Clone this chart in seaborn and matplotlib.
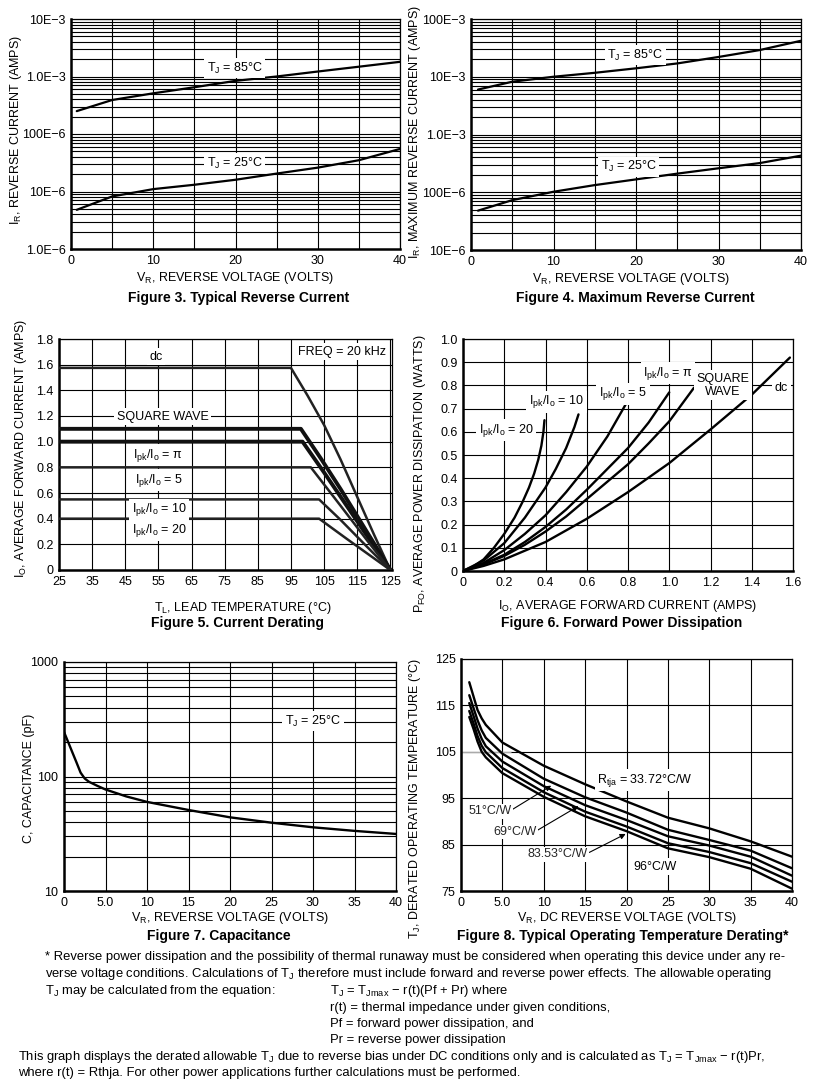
import matplotlib
matplotlib.use("Agg")
import matplotlib.pyplot as plt
import seaborn as sns
from matplotlib.ticker import FixedLocator, FixedFormatter, LogLocator, NullFormatter

# ---- data ----
# Figure 3 typical reverse current
f3_vr = [0.7, 5, 10, 15, 20, 25, 30, 35, 40]
f3_85 = [2.5e-4, 3.9e-4, 5.1e-4, 6.5e-4, 8.4e-4, 1.0e-3, 1.22e-3, 1.48e-3, 1.8e-3]
f3_25 = [4.8e-6, 8.2e-6, 1.1e-5, 1.31e-5, 1.6e-5, 2.05e-5, 2.6e-5, 3.5e-5, 5.5e-5]
f3_ticks = [1e-6, 1e-5, 1e-4, 1e-3, 1e-2]
f3_ticklabels = ["1.0E\u22126", "10E\u22126", "100E\u22126", "1.0E\u22123", "10E\u22123"]

# Figure 4 maximum reverse current
f4_vr = [0.85, 5, 10, 15, 20, 25, 30, 35, 40]
f4_85 = [6.0e-3, 8.2e-3, 1.0e-2, 1.17e-2, 1.4e-2, 1.7e-2, 2.2e-2, 2.9e-2, 4.2e-2]
f4_25 = [4.8e-5, 7.3e-5, 1.02e-4, 1.33e-4, 1.67e-4, 2.1e-4, 2.6e-4, 3.2e-4, 4.3e-4]
f4_ticks = [1e-5, 1e-4, 1e-3, 1e-2, 1e-1]
f4_ticklabels = ["10E\u22126", "100E\u22126", "1.0E\u22123", "10E\u22123", "100E\u22123"]

# Figure 5 current derating
f5_dc_t = [25, 95, 100, 105, 110, 115, 120, 125]
f5_dc_i = [1.575, 1.575, 1.36, 1.13, 0.86, 0.57, 0.28, 0]
f5_sq_t = [25, 98, 104, 110, 115, 120, 125]
f5_sq_i = [1.1, 1.1, 0.87, 0.63, 0.42, 0.21, 0]
f5_pi_t = [25, 98.5, 105, 110, 115, 120, 125]
f5_pi_i = [1.0, 1.0, 0.76, 0.57, 0.38, 0.19, 0]
f5_5_t = [25, 101, 110, 118, 125]
f5_5_i = [0.8, 0.8, 0.5, 0.23, 0]
f5_10_t = [25, 103.5, 110, 118, 125]
f5_10_i = [0.55, 0.55, 0.39, 0.18, 0]
f5_20_t = [25, 103.5, 112, 125]
f5_20_i = [0.4, 0.4, 0.24, 0]

# Figure 6 forward power dissipation
f6_20_i = [0, 0.05, 0.1, 0.15, 0.2, 0.25, 0.29, 0.32, 0.345, 0.365, 0.38, 0.39, 0.395]
f6_20_p = [0, 0.02, 0.05, 0.1, 0.16, 0.23, 0.3, 0.36, 0.42, 0.48, 0.54, 0.6, 0.65]
f6_10_i = [0, 0.1, 0.2, 0.3, 0.4, 0.45, 0.5, 0.54, 0.56]
f6_10_p = [0, 0.045, 0.12, 0.23, 0.36, 0.44, 0.53, 0.62, 0.675]
f6_5_i = [0, 0.1, 0.2, 0.3, 0.4, 0.5, 0.6, 0.7, 0.79]
f6_5_p = [0, 0.035, 0.09, 0.16, 0.24, 0.34, 0.45, 0.58, 0.72]
f6_pi_i = [0, 0.1, 0.2, 0.3, 0.4, 0.5, 0.6, 0.7, 0.8, 0.9, 1.0]
f6_pi_p = [0, 0.03, 0.07, 0.125, 0.19, 0.265, 0.35, 0.44, 0.53, 0.64, 0.77]
f6_sq_i = [0, 0.1, 0.2, 0.3, 0.4, 0.5, 0.6, 0.7, 0.8, 0.9, 1.0, 1.12]
f6_sq_p = [0, 0.028, 0.065, 0.113, 0.17, 0.235, 0.31, 0.385, 0.46, 0.55, 0.645, 0.79]
f6_dc_i = [0, 0.1, 0.2, 0.4, 0.6, 0.8, 1.0, 1.2, 1.4, 1.585]
f6_dc_p = [0, 0.022, 0.05, 0.125, 0.225, 0.34, 0.465, 0.61, 0.76, 0.92]

# Figure 7 capacitance
f7_vr = [0, 0.5, 1, 1.5, 2, 2.5, 3, 4, 5, 7.5, 10, 15, 20, 25, 30, 35, 40]
f7_pf = [245, 200, 163, 133, 108, 96, 90, 83, 77, 67, 60, 51, 44, 39.5, 36, 33.5, 31.5]

# Figure 8 operating temperature derating
f8_vr = [1, 1.5, 2, 2.5, 3, 5, 10, 15, 20, 25, 30, 35, 40]
f8_3372 = [120.0, 117.0, 114.0, 112.2, 110.8, 107.0, 102.0, 98.0, 94.3, 90.8, 88.5, 85.7, 82.4]
f8_51 = [117.2, 114.5, 111.8, 109.6, 108.0, 104.6, 99.2, 95.2, 91.9, 88.2, 86.0, 83.7, 79.9]
f8_69 = [115.5, 112.8, 110.0, 107.8, 106.2, 102.9, 97.6, 93.5, 90.3, 86.8, 84.8, 82.4, 78.3]
f8_8353 = [113.8, 111.2, 108.4, 106.3, 104.9, 101.5, 96.3, 92.1, 88.9, 85.3, 83.4, 81.0, 77.0]
f8_96 = [112.5, 110.0, 107.2, 105.0, 103.8, 100.4, 95.3, 91.1, 87.9, 84.2, 82.3, 79.8, 75.5]

sns.set_theme(style="white")
plt.rcParams['font.family'] = ['Liberation Sans', 'DejaVu Sans']
plt.rcParams['axes.unicode_minus'] = True

W, H = 819, 1081
fig = plt.figure(figsize=(W / 100, H / 100), dpi=100)
fig.patch.set_facecolor('white')


def add_ax(l, t, r, b):
    return fig.add_axes([l / W, 1 - b / H, (r - l) / W, (b - t) / H])


def style(ax):
    for s in ['left', 'bottom']:
        ax.spines[s].set_linewidth(1.8)
    for s in ['top', 'right']:
        ax.spines[s].set_linewidth(0.9)
    for s in ax.spines.values():
        s.set_color('black')
        s.set_visible(True)
    ax.tick_params(which='both', length=0, labelsize=9, pad=4, colors='black')
    ax.grid(True, which='both', color='black', lw=0.8)
    ax.set_axisbelow(True)
    ax.set_xlabel('')
    ax.set_ylabel('')


def ftext(x, y, s, **kw):
    fig.text(x / W, 1 - y / H, s, ha='center', va='center', color='black', **kw)


def box(ax, x, y, s, **kw):
    ax.text(x, y, s, ha='center', va='center', fontsize=9, color='black', zorder=4,
            bbox=dict(facecolor='white', edgecolor='none', pad=1.8), **kw)


def curve(ax, x, y, lw=1.6, color='black'):
    sns.lineplot(x=x, y=y, ax=ax, color=color, lw=lw, estimator=None, sort=False, zorder=3)


def log_axis(ax, ticks, labels):
    ax.set_yscale('log')
    ax.yaxis.set_major_locator(FixedLocator(ticks))
    ax.yaxis.set_major_formatter(FixedFormatter(labels))
    ax.yaxis.set_minor_locator(LogLocator(base=10, subs=range(2, 10)))
    ax.yaxis.set_minor_formatter(NullFormatter())


def sub(s):
    return r'$\mathregular{' + s + '}$'


TITLE = dict(fontsize=10, fontweight='bold')

# ---- Figure 3 ----
ax3 = add_ax(71, 19, 400, 249)
curve(ax3, f3_vr, f3_85)
curve(ax3, f3_vr, f3_25)
ax3.set_xlim(0, 40)
ax3.set_ylim(1e-6, 1e-2)
log_axis(ax3, f3_ticks, f3_ticklabels)
ax3.set_xticks([0, 10, 20, 30, 40])
ax3.set_xticks([5, 15, 25, 35], minor=True)
style(ax3)
box(ax3, 19.9, 1.39e-3, 'T' + sub('_J') + ' = 85°C')
box(ax3, 19.9, 3.12e-5, 'T' + sub('_J') + ' = 25°C')
ftext(235, 278, 'V' + sub('_R') + ', REVERSE VOLTAGE (VOLTS)', fontsize=9)
ftext(239, 298, 'Figure 3. Typical Reverse Current', **TITLE)
ftext(16, 130, 'I' + sub('_R') + ', REVERSE CURRENT (AMPS)', fontsize=9, rotation=90)

# ---- Figure 4 ----
ax4 = add_ax(471, 19, 801, 250)
curve(ax4, f4_vr, f4_85)
curve(ax4, f4_vr, f4_25)
ax4.set_xlim(0, 40)
ax4.set_ylim(1e-5, 1e-1)
log_axis(ax4, f4_ticks, f4_ticklabels)
ax4.set_xticks([0, 10, 20, 30, 40])
ax4.set_xticks([5, 15, 25, 35], minor=True)
style(ax4)
box(ax4, 19.9, 2.38e-2, 'T' + sub('_J') + ' = 85°C')
box(ax4, 19.1, 2.77e-4, 'T' + sub('_J') + ' = 25°C')
ftext(631, 279, 'V' + sub('_R') + ', REVERSE VOLTAGE (VOLTS)', fontsize=9)
ftext(635, 298, 'Figure 4. Maximum Reverse Current', **TITLE)
ftext(415, 132, 'I' + sub('_R') + ', MAXIMUM REVERSE CURRENT (AMPS)', fontsize=9, rotation=90)

# ---- Figure 5 ----
ax5 = add_ax(59, 339, 392, 570)
curve(ax5, f5_dc_t, f5_dc_i, lw=1.8, color='#222222')
curve(ax5, f5_sq_t, f5_sq_i, lw=2.8, color='#111111')
curve(ax5, f5_pi_t, f5_pi_i, lw=2.8, color='#111111')
curve(ax5, f5_5_t, f5_5_i, lw=1.8, color='#222222')
curve(ax5, f5_10_t, f5_10_i, lw=1.8, color='#222222')
curve(ax5, f5_20_t, f5_20_i, lw=1.8, color='#222222')
ax5.set_xlim(25, 125.5)
ax5.set_ylim(0, 1.8)
ax5.set_xticks(list(range(25, 126, 10)))
ax5.set_yticks([0, 0.2, 0.4, 0.6, 0.8, 1.0, 1.2, 1.4, 1.6, 1.8])
ax5.set_yticklabels(['0', '0.2', '0.4', '0.6', '0.8', '1.0', '1.2', '1.4', '1.6', '1.8'])
style(ax5)
box(ax5, 54.3, 1.66, 'dc')
box(ax5, 56.3, 1.195, 'SQUARE WAVE')
box(ax5, 110.5, 1.70, 'FREQ = 20 kHz')
box(ax5, 54.8, 0.896, 'I' + sub('_{pk}') + '/I' + sub('_o') + ' = \u03c0')
box(ax5, 55.3, 0.70, 'I' + sub('_{pk}') + '/I' + sub('_o') + ' = 5')
box(ax5, 55.3, 0.468, 'I' + sub('_{pk}') + '/I' + sub('_o') + ' = 10')
box(ax5, 55.3, 0.31, 'I' + sub('_{pk}') + '/I' + sub('_o') + ' = 20')
ftext(243, 608, 'T' + sub('_L') + ', LEAD TEMPERATURE (°C)', fontsize=9)
ftext(237, 623, 'Figure 5. Current Derating', **TITLE)
ftext(21, 448, 'I' + sub('_O') + ', AVERAGE FORWARD CURRENT (AMPS)', fontsize=9, rotation=90)

# ---- Figure 6 ----
ax6 = add_ax(463, 339, 793, 571)
for xs, ys in [(f6_20_i, f6_20_p), (f6_10_i, f6_10_p), (f6_5_i, f6_5_p),
               (f6_pi_i, f6_pi_p), (f6_sq_i, f6_sq_p), (f6_dc_i, f6_dc_p)]:
    curve(ax6, xs, ys, lw=1.7)
ax6.set_xlim(0, 1.6)
ax6.set_ylim(0, 1.0)
ax6.set_xticks([0, 0.2, 0.4, 0.6, 0.8, 1.0, 1.2, 1.4, 1.6])
ax6.set_xticklabels(['0', '0.2', '0.4', '0.6', '0.8', '1.0', '1.2', '1.4', '1.6'])
ax6.set_yticks([0, 0.1, 0.2, 0.3, 0.4, 0.5, 0.6, 0.7, 0.8, 0.9, 1.0])
ax6.set_yticklabels(['0', '0.1', '0.2', '0.3', '0.4', '0.5', '0.6', '0.7', '0.8', '0.9', '1.0'])
style(ax6)
box(ax6, 0.21, 0.607, 'I' + sub('_{pk}') + '/I' + sub('_o') + ' = 20')
box(ax6, 0.453, 0.73, 'I' + sub('_{pk}') + '/I' + sub('_o') + ' = 10')
box(ax6, 0.776, 0.765, 'I' + sub('_{pk}') + '/I' + sub('_o') + ' = 5')
box(ax6, 0.994, 0.852, 'I' + sub('_{pk}') + '/I' + sub('_o') + ' = \u03c0')
box(ax6, 1.26, 0.80, 'SQUARE\nWAVE', linespacing=1.1)
box(ax6, 1.544, 0.787, 'dc')
ftext(628, 606, 'I' + sub('_O') + ', AVERAGE FORWARD CURRENT (AMPS)', fontsize=9)
ftext(622, 623, 'Figure 6. Forward Power Dissipation', **TITLE)
ftext(420, 474, 'P' + sub('_{FO}') + ', AVERAGE POWER DISSIPATION (WATTS)', fontsize=9, rotation=90)

# ---- Figure 7 ----
ax7 = add_ax(64, 662, 396, 891)
curve(ax7, f7_vr, f7_pf, lw=1.7)
ax7.set_xlim(0, 40)
ax7.set_ylim(10, 1000)
log_axis(ax7, [10, 100, 1000], ['10', '100', '1000'])
ax7.set_xticks([0, 5, 10, 15, 20, 25, 30, 35, 40])
ax7.set_xticklabels(['0', '5.0', '10', '15', '20', '25', '30', '35', '40'])
style(ax7)
box(ax7, 30.0, 305, 'T' + sub('_J') + ' = 25°C')
ftext(230, 918, 'V' + sub('_R') + ', REVERSE VOLTAGE (VOLTS)', fontsize=9)
ftext(219, 936, 'Figure 7. Capacitance', **TITLE)
ftext(29, 778, 'C, CAPACITANCE (pF)', fontsize=9, rotation=90)

# ---- Figure 8 ----
ax8 = add_ax(461, 659, 792, 891)
for ys in [f8_3372, f8_51, f8_69, f8_8353, f8_96]:
    curve(ax8, f8_vr, ys, lw=1.7)
ax8.set_xlim(0, 40)
ax8.set_ylim(75, 125)
ax8.set_xticks([0, 5, 10, 15, 20, 25, 30, 35, 40])
ax8.set_xticklabels(['0', '5.0', '10', '15', '20', '25', '30', '35', '40'])
ax8.set_yticks([75, 85, 95, 105, 115, 125])
style(ax8)
ax8.hlines(105, 0, 6, color='#aaaaaa', lw=1.0, zorder=2)
box(ax8, 22.2, 98.9, 'R' + sub('_{tja}') + ' = 33.72°C/W')
box(ax8, 23.4, 80.2, '96°C/W')
arrow_kw = dict(arrowstyle='-|>', color='black', lw=0.8, mutation_scale=8, relpos=(1.0, 0.6),
                shrinkA=0, shrinkB=0)
for (tx, ty, lbl, px, py) in [(3.5, 92.2, '51°C/W', 10.9, 97.7),
                              (6.5, 87.7, '69°C/W', 14.2, 93.3),
                              (11.7, 82.9, '83.53°C/W', 19.9, 87.3)]:
    ax8.annotate(lbl, xy=(px, py), xytext=(tx, ty), ha='center', va='center', fontsize=9,
                 zorder=4, arrowprops=arrow_kw,
                 bbox=dict(facecolor='white', edgecolor='none', pad=1.0))
ftext(627, 918, 'V' + sub('_R') + ', DC REVERSE VOLTAGE (VOLTS)', fontsize=9)
ftext(623, 936, 'Figure 8. Typical Operating Temperature Derating*', **TITLE)
ftext(415, 798, 'T' + sub('_J') + ', DERATED OPERATING TEMPERATURE (°C)', fontsize=9, rotation=90)

# ---- footnote ----
note_lines = [
    (45, 957, '* Reverse power dissipation and the possibility of thermal runaway must be considered when operating this device under any re-'),
    (45, 974, 'verse voltage conditions. Calculations of T' + sub('_J') + ' therefore must include forward and reverse power effects. The allowable operating'),
    (45, 991, 'T' + sub('_J') + ' may be calculated from the equation:'),
    (330, 991, 'T' + sub('_J') + ' = T' + sub('_{Jmax}') + ' \u2212 r(t)(Pf + Pr) where'),
    (330, 1008, 'r(t) = thermal impedance under given conditions,'),
    (330, 1024, 'Pf = forward power dissipation, and'),
    (330, 1040, 'Pr = reverse power dissipation'),
    (18, 1057, 'This graph displays the derated allowable T' + sub('_J') + ' due to reverse bias under DC conditions only and is calculated as T'
     + sub('_J') + ' = T' + sub('_{Jmax}') + ' \u2212 r(t)Pr,'),
    (18, 1073, 'where r(t) = Rthja. For other power applications further calculations must be performed.'),
]
for x, y, s in note_lines:
    fig.text(x / W, 1 - y / H, s, ha='left', va='center', fontsize=9.4, color='black')

fig.savefig('out.png', dpi=100, facecolor='white')
